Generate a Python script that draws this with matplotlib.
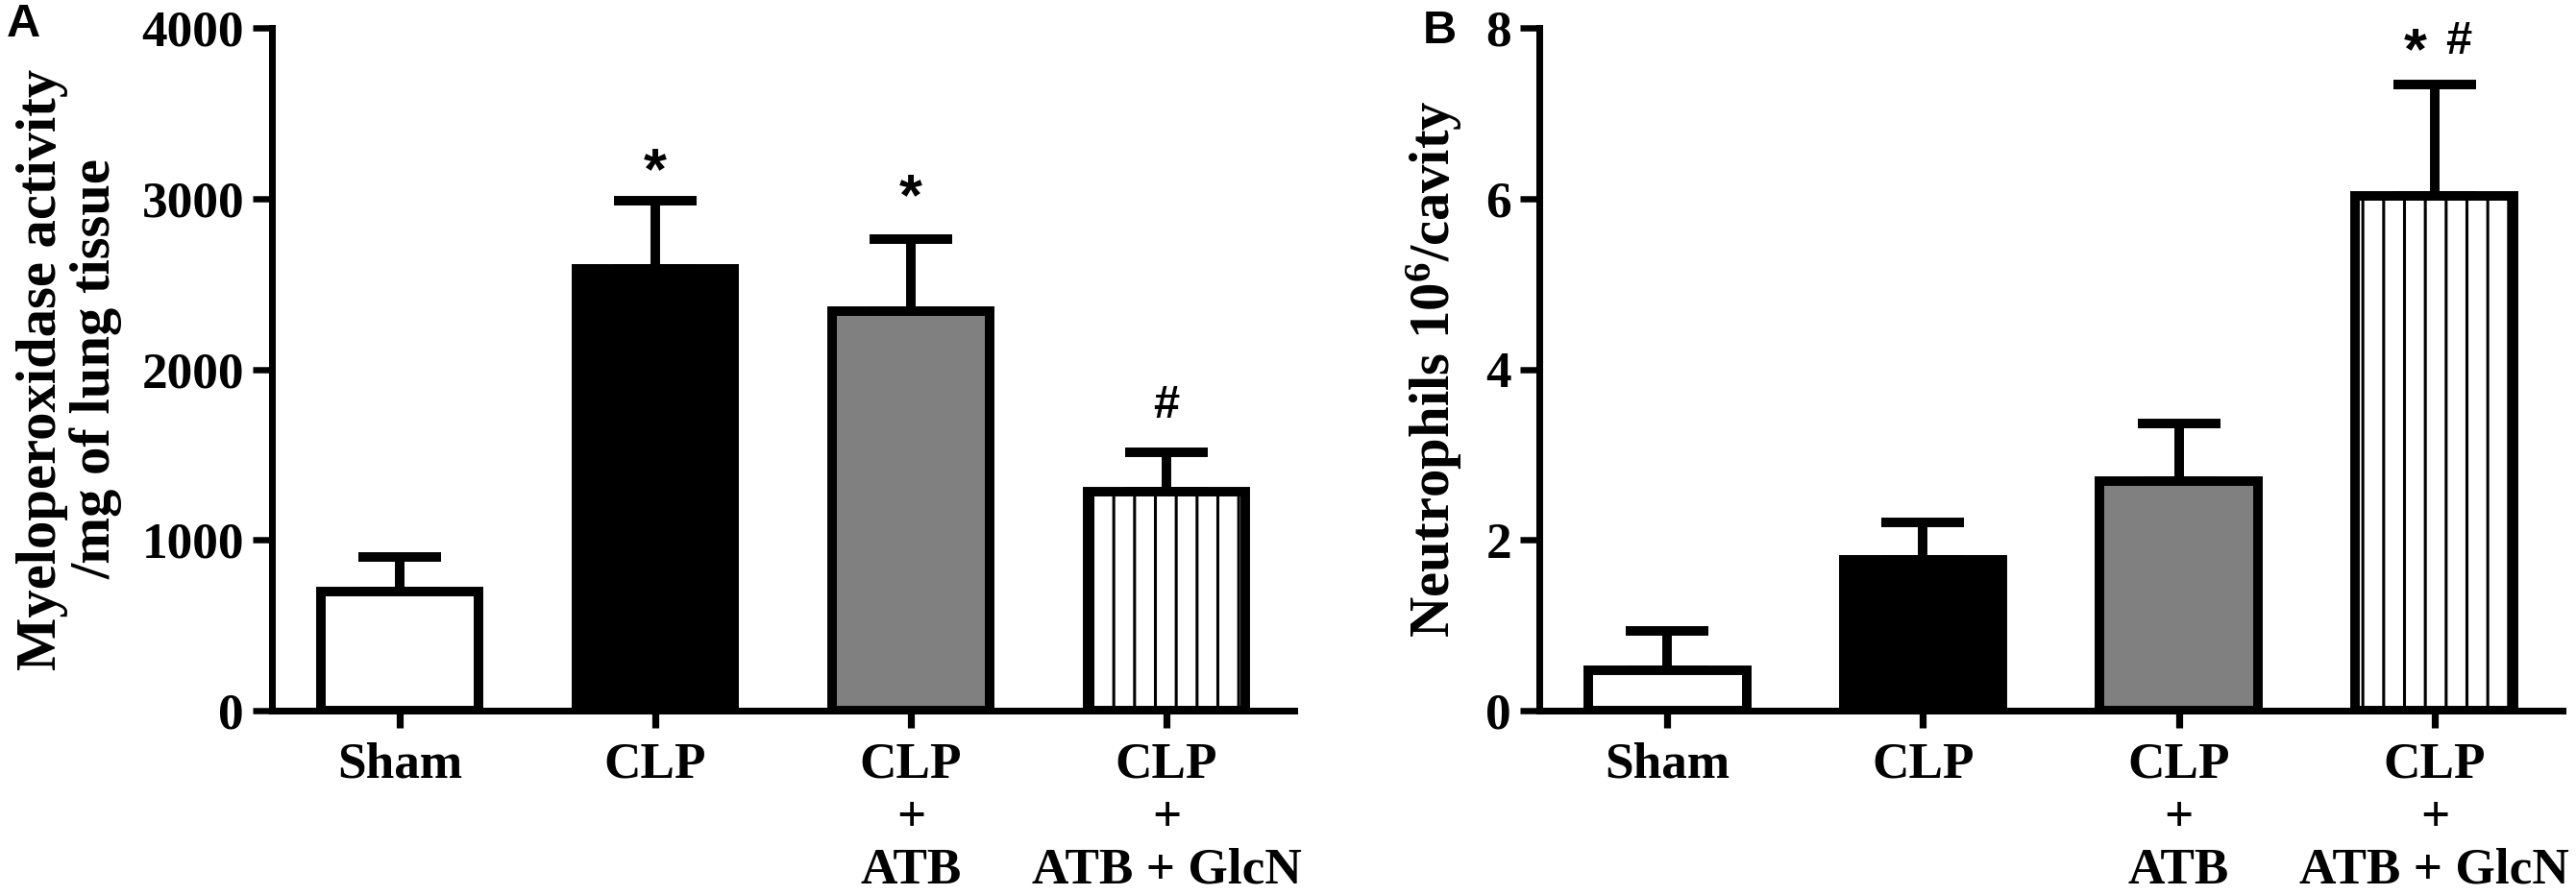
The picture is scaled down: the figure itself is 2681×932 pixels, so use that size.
import matplotlib
matplotlib.use('Agg')
import matplotlib.pyplot as plt
import numpy as np

# groups / values
groups = ['Sham', 'CLP', 'CLP\n+\nATB', 'CLP\n+\nATB + GlcN']
mpo_mean = [700, 2590, 2340, 1280]
mpo_sem = [200, 395, 420, 235]
neu_mean = [0.47, 1.77, 2.69, 6.03]
neu_sem = [0.46, 0.43, 0.67, 1.31]
bar_colors = ['white', 'black', '#808080', 'white']
bar_hatch = [None, None, None, '|']
# significance marks: (bar index, symbol, y of baseline)
mpo_marks = [(1, '*', 3057), (2, '*', 2905), (3, '#', 1717)]
neu_marks = [(3, '*', 7.52), (3, '#', 7.70)]

DPI = 130
plt.rcParams['font.family'] = 'Liberation Serif'
plt.rcParams['font.weight'] = 'bold'
plt.rcParams['mathtext.fontset'] = 'custom'
plt.rcParams['mathtext.rm'] = 'Liberation Serif:bold'
plt.rcParams['mathtext.bf'] = 'Liberation Serif:bold'
plt.rcParams['mathtext.default'] = 'bf'
plt.rcParams['hatch.color'] = 'black'
plt.rcParams['hatch.linewidth'] = 1.7

fig = plt.figure(figsize=(2681 / DPI, 932 / DPI), dpi=DPI)


def draw(ax, means, sems, ymax, ystep, ylabel, marks):
    x = np.arange(len(groups))
    bars = ax.bar(x, means, width=0.62, color=bar_colors, edgecolor='black',
                  linewidth=5.5, zorder=2)
    for b, h in zip(bars, bar_hatch):
        if h:
            b.set_hatch(h)
    ax.errorbar(x, means, yerr=[np.zeros(len(x)), sems], fmt='none', ecolor='black',
                elinewidth=5.5, capsize=24, capthick=5.5, zorder=1)
    # two marks on one bar sit side by side
    per_bar = {}
    for i, s, y in marks:
        per_bar.setdefault(i, []).append((s, y))
    for i, lst in per_bar.items():
        shifts = [0] if len(lst) == 1 else [-11, 14]
        for (s, y), dx in zip(lst, shifts):
            size = 34 if s == '*' else 27
            ax.annotate(s, (x[i], y), xytext=(dx, 0), textcoords='offset points',
                        ha='center', va='baseline', fontsize=size,
                        family='Liberation Sans', fontweight='bold')
    ax.set_xlim(-0.5, 3.5)
    ax.set_ylim(0, ymax)
    ax.set_yticks(np.arange(0, ymax + ystep / 2, ystep))
    ax.set_xticks(x)
    ax.set_xticklabels(groups, linespacing=1.19)
    ax.spines['top'].set_visible(False)
    ax.spines['right'].set_visible(False)
    ax.spines['left'].set_linewidth(3.9)
    ax.spines['bottom'].set_linewidth(3.9)
    ax.tick_params(axis='y', length=11, width=3.6, labelsize=29.5, pad=5)
    ax.tick_params(axis='x', length=10, width=4, labelsize=29.5, pad=8)
    ax.set_ylabel(ylabel, fontsize=32.5, fontweight='bold', linespacing=1.05)


axA = fig.add_axes([283 / 2681, 1 - 740 / 932, 1064 / 2681, 711 / 932])
draw(axA, mpo_mean, mpo_sem, 4000, 1000,
     'Myeloperoxidase activity\n/mg of lung tissue', mpo_marks)
axA.yaxis.set_label_coords(-0.146, 0.5)

axB = fig.add_axes([1602 / 2681, 1 - 740 / 932, 1065 / 2681, 711 / 932])
draw(axB, neu_mean, neu_sem, 8, 2,
     'Neutrophils 10$^{6}$/cavity', neu_marks)
axB.yaxis.set_label_coords(-0.073, 0.5)

fig.text(7 / 2681, 1 - 3 / 932, 'A', family='Liberation Sans', fontweight='bold',
         fontsize=27, ha='left', va='top')
fig.text(1481 / 2681, 1 - 10 / 932, 'B', family='Liberation Sans', fontweight='bold',
         fontsize=27, ha='left', va='top')

fig.savefig('out.png', dpi=DPI)
